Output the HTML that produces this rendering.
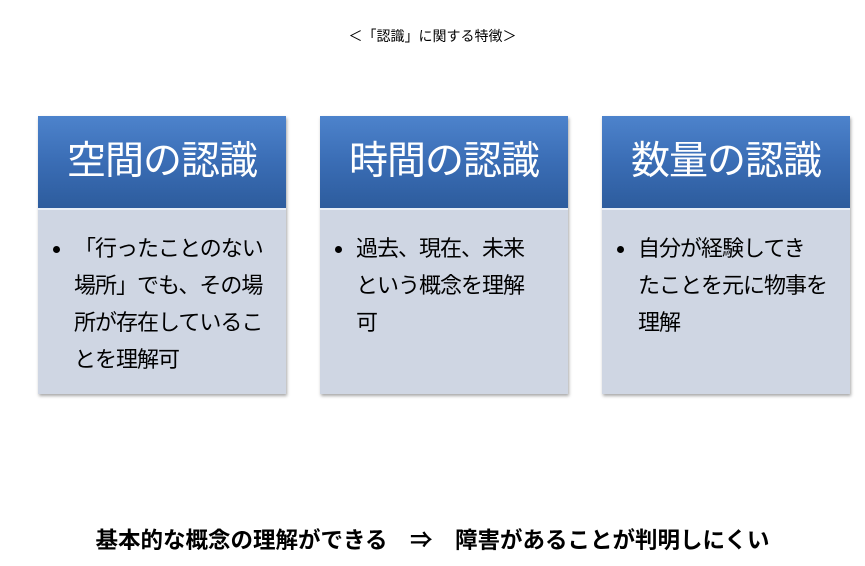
<!DOCTYPE html>
<html><head><meta charset="utf-8"><style>
body{margin:0;width:865px;height:566px;background:#fff;position:relative;overflow:hidden;font-family:"Liberation Sans","Noto Sans CJK JP",sans-serif;}
.cap{position:absolute;top:26px;left:0;width:865px;text-align:center;font-size:14px;color:#000;}
.box{position:absolute;top:116px;width:248px;height:278px;box-shadow:1px 2px 3px rgba(0,0,0,0.35);}
.hd{height:92px;background:linear-gradient(#4d83cc,#3a6db5 50%,#2d5c9d);border-bottom:2px solid #e8eef7;color:#fff;font-size:39px;text-align:center;line-height:92px;letter-spacing:-1px;}
.bd{height:184px;background:#cfd6e3;position:relative;font-size:22px;line-height:37px;color:#000;padding:20px 0 0 36px;box-sizing:border-box;white-space:nowrap;letter-spacing:-1px;}
.bd:before{content:"";position:absolute;left:15px;top:36px;width:7px;height:7px;border-radius:50%;background:#000;}
.bot{position:absolute;top:523px;left:0;width:865px;text-align:center;font-size:22.5px;font-weight:bold;}
</style></head><body>
<div class="cap">＜「認識」に関する特徴＞</div>
<div class="box" style="left:38px"><div class="hd">空間の認識</div><div class="bd">「行ったことのない<br>場所」でも、その場<br>所が存在しているこ<br>とを理解可</div></div>
<div class="box" style="left:320px"><div class="hd">時間の認識</div><div class="bd">過去、現在、未来<br>という概念を理解<br>可</div></div>
<div class="box" style="left:602px"><div class="hd">数量の認識</div><div class="bd">自分が経験してき<br>たことを元に物事を<br>理解</div></div>
<div class="bot">基本的な概念の理解ができる　⇒　障害があることが判明しにくい</div>
</body></html>
